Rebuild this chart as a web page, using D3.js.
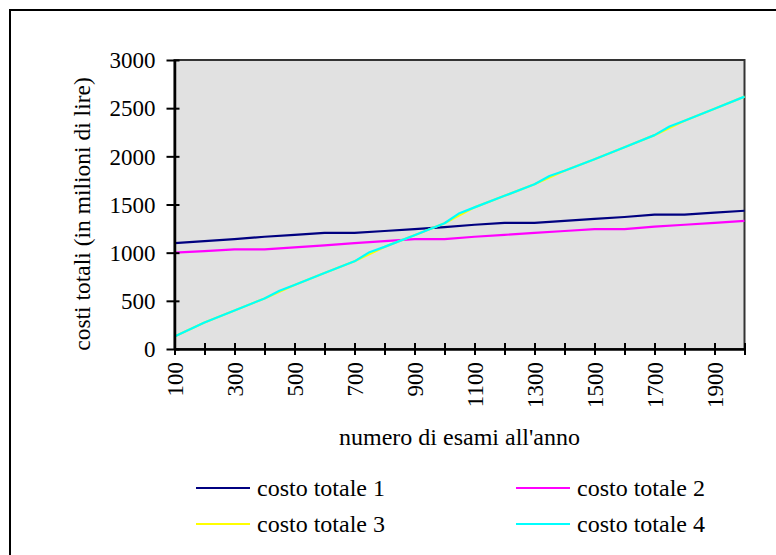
<!DOCTYPE html>
<html>
<head>
<meta charset="utf-8">
<script src="https://cdn.jsdelivr.net/npm/d3@7"></script>
<style>
  html, body { margin: 0; padding: 0; background: #fff; }
  svg { display: block; }
</style>
</head>
<body>
<svg id="chart" width="776" height="555"></svg>
<script>
// Number of exams per year (x categories)
const esami = [100, 200, 300, 400, 500, 600, 700, 800, 900, 1000,
               1100, 1200, 1300, 1400, 1500, 1600, 1700, 1800, 1900, 2000];

// Total costs, millions of lire
const costo1 = [1100, 1120, 1140, 1165, 1185, 1205, 1205, 1225, 1245, 1265,
                1290, 1310, 1310, 1330, 1350, 1370, 1395, 1395, 1415, 1435];
const costo2 = [1000, 1015, 1035, 1035, 1055, 1075, 1100, 1120, 1140, 1140,
                1165, 1185, 1205, 1225, 1245, 1245, 1270, 1290, 1310, 1330];
const costo3 = [130, 275, 400, 525, 665, 790, 910, 1060, 1180, 1305,
                1470, 1590, 1710, 1850, 1970, 2095, 2220, 2370, 2495, 2620];
// Series 4 also has the intermediate step points
const esami4 = [100, 200, 300, 400, 450, 500, 600, 700, 750, 800, 900, 1000, 1050,
                1100, 1200, 1300, 1350, 1400, 1500, 1600, 1700, 1750, 1800, 1900, 2000];
const costo4 = [130, 275, 400, 525, 605, 665, 790, 910, 1005, 1060, 1180, 1305, 1410,
                1470, 1590, 1710, 1795, 1850, 1970, 2095, 2220, 2310, 2370, 2495, 2620];

const yTicks = [0, 500, 1000, 1500, 2000, 2500, 3000];
const xLabels = [100, 300, 500, 700, 900, 1100, 1300, 1500, 1700, 1900];

const seriesNames = ["costo totale 1", "costo totale 2", "costo totale 3", "costo totale 4"];
const seriesColors = ["#000080", "#ff00ff", "#ffff00", "#00ffff"];

const svg = d3.select("#chart");
const TICK_FONT = 23;
const LABEL_FONT = 24;
const FAMILY = "'Liberation Serif', Tinos, 'Times New Roman', 'DejaVu Serif', serif";

// Outer chart frame
svg.append("rect")
  .attr("x", 10).attr("y", 10).attr("width", 800).attr("height", 600)
  .attr("fill", "none").attr("stroke", "#000").attr("stroke-width", 2);

const plotL = 174.5, plotR = 744.5, plotT = 60, plotB = 349;

const x = d3.scaleLinear().domain([100, 2000]).range([plotL, plotR]);
const y = d3.scaleLinear().domain([0, 3000]).range([plotB, plotT]);

// Plot area
svg.append("rect")
  .attr("x", plotL).attr("y", plotT)
  .attr("width", plotR - plotL).attr("height", plotB - plotT)
  .attr("fill", "#e1e1e1").attr("stroke", "#333").attr("stroke-width", 2);

// Lines
const line = d3.line().x(d => x(d[0])).y(d => y(d[1]));
const series = [
  d3.zip(esami, costo1),
  d3.zip(esami, costo2),
  d3.zip(esami, costo3),
  d3.zip(esami4, costo4)
];
series.forEach((pts, i) => {
  svg.append("path")
    .datum(pts)
    .attr("d", line)
    .attr("fill", "none")
    .attr("stroke", seriesColors[i])
    .attr("stroke-width", 2.2)
    .attr("stroke-linejoin", "round");
});

// Y axis
const yAxis = svg.append("g")
  .attr("transform", `translate(${plotL},0)`)
  .call(d3.axisLeft(y).tickValues(yTicks).tickFormat(d3.format("d"))
        .tickSize(8).tickPadding(11).tickSizeOuter(0));
yAxis.attr("font-family", FAMILY).attr("font-size", TICK_FONT);
yAxis.select(".domain").attr("stroke", "#000").attr("stroke-width", 2.5);
yAxis.selectAll(".tick line").attr("x1", 5).attr("x2", -8).attr("stroke", "#000").attr("stroke-width", 2);
yAxis.selectAll(".tick text").attr("fill", "#000").attr("dy", "0.34em");

// X axis
const xAxis = svg.append("g")
  .attr("transform", `translate(0,${plotB})`)
  .call(d3.axisBottom(x).tickValues(esami).tickSize(6).tickSizeOuter(0)
        .tickFormat(d => xLabels.includes(d) ? String(d) : ""));
xAxis.attr("font-family", FAMILY).attr("font-size", TICK_FONT);
xAxis.select(".domain").attr("stroke", "#000").attr("stroke-width", 2.5);
xAxis.selectAll(".tick line").attr("y1", -6).attr("y2", 6).attr("stroke", "#000").attr("stroke-width", 2);
xAxis.selectAll(".tick text")
  .attr("fill", "#000")
  .attr("transform", "rotate(-90)")
  .attr("text-anchor", "end")
  .attr("x", -13).attr("y", 0).attr("dy", "0.34em");

// Axis titles
svg.append("text")
  .attr("transform", "translate(90,214) rotate(-90)")
  .attr("text-anchor", "middle")
  .attr("font-family", FAMILY).attr("font-size", 23.5)
  .text("costi totali (in milioni di lire)");

svg.append("text")
  .attr("x", (plotL + plotR) / 2).attr("y", 445)
  .attr("text-anchor", "middle")
  .attr("font-family", FAMILY).attr("font-size", LABEL_FONT)
  .text("numero di esami all'anno");

// Legend, two columns
const legendPos = [[196, 488], [516, 488], [196, 524], [516, 524]];
seriesNames.forEach((name, i) => {
  const [lx, ly] = legendPos[i];
  svg.append("line")
    .attr("x1", lx).attr("x2", lx + 54).attr("y1", ly).attr("y2", ly)
    .attr("stroke", seriesColors[i]).attr("stroke-width", 2.2);
  svg.append("text")
    .attr("x", lx + 61).attr("y", ly).attr("dy", "0.33em")
    .attr("font-family", FAMILY).attr("font-size", LABEL_FONT)
    .text(name);
});
</script>
</body>
</html>
